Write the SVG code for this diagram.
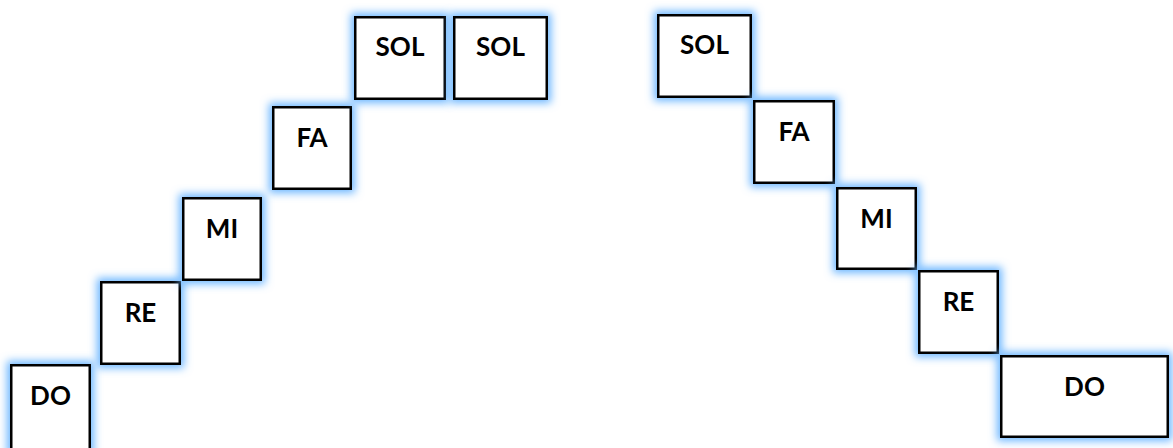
<svg xmlns="http://www.w3.org/2000/svg" width="1173" height="448" viewBox="0 0 1173 448">
<defs>
<filter id="glow" x="-0.3" y="-0.3" width="1.6" height="1.6">
<feMorphology in="SourceAlpha" operator="dilate" radius="3" result="d"/>
<feGaussianBlur in="d" stdDeviation="4" result="b"/>
<feFlood flood-color="#6cb6ff" flood-opacity="1"/>
<feComposite in2="b" operator="in" result="g"/>
<feMerge><feMergeNode in="g"/><feMergeNode in="SourceGraphic"/></feMerge>
</filter>
</defs>
<style>
.box{fill:#fff;stroke:#000;stroke-width:2.5;filter:url(#glow)}
.lbl{font-family:Lato,"Open Sans","Liberation Sans",sans-serif;font-weight:bold;font-size:26px;fill:#000;text-anchor:middle}
</style>
<rect width="1173" height="448" fill="#fff"/>
<g id="connectors"></g>
<g id="left-do"><rect class="box" x="11.25" y="365.25" width="78.5" height="86"/><text class="lbl" x="50.5" y="404.5">DO</text></g>
<g id="left-re"><rect class="box" x="101.25" y="282.25" width="78.5" height="81.5"/><text class="lbl" x="140.5" y="321.5">RE</text></g>
<g id="left-mi"><rect class="box" x="183.25" y="198.25" width="77.5" height="81.5"/><text class="lbl" x="222" y="237.5">MI</text></g>
<g id="left-fa"><rect class="box" x="273.25" y="107.25" width="77.5" height="81.5"/><text class="lbl" x="312" y="146.5">FA</text></g>
<g id="left-sol1"><rect class="box" x="355.25" y="17.25" width="89.5" height="81.5"/><text class="lbl" x="400" y="55.5">SOL</text></g>
<g id="left-sol2"><rect class="box" x="454.25" y="17.25" width="92.5" height="81.5"/><text class="lbl" x="500.5" y="55.5">SOL</text></g>
<g id="right-sol"><rect class="box" x="658.25" y="15.25" width="92.5" height="81.5"/><text class="lbl" x="704.5" y="53.5">SOL</text></g>
<g id="right-fa"><rect class="box" x="754.25" y="101.25" width="79.5" height="81.5"/><text class="lbl" x="794" y="140.5">FA</text></g>
<g id="right-mi"><rect class="box" x="837.25" y="188.25" width="78.5" height="80.5"/><text class="lbl" x="876.5" y="227.5">MI</text></g>
<g id="right-re"><rect class="box" x="919.25" y="271.25" width="78.5" height="81.5"/><text class="lbl" x="958.5" y="310.5">RE</text></g>
<g id="right-do"><rect class="box" x="1001.25" y="356.25" width="166.5" height="80.5"/><text class="lbl" x="1084.5" y="395.5">DO</text></g>
</svg>
